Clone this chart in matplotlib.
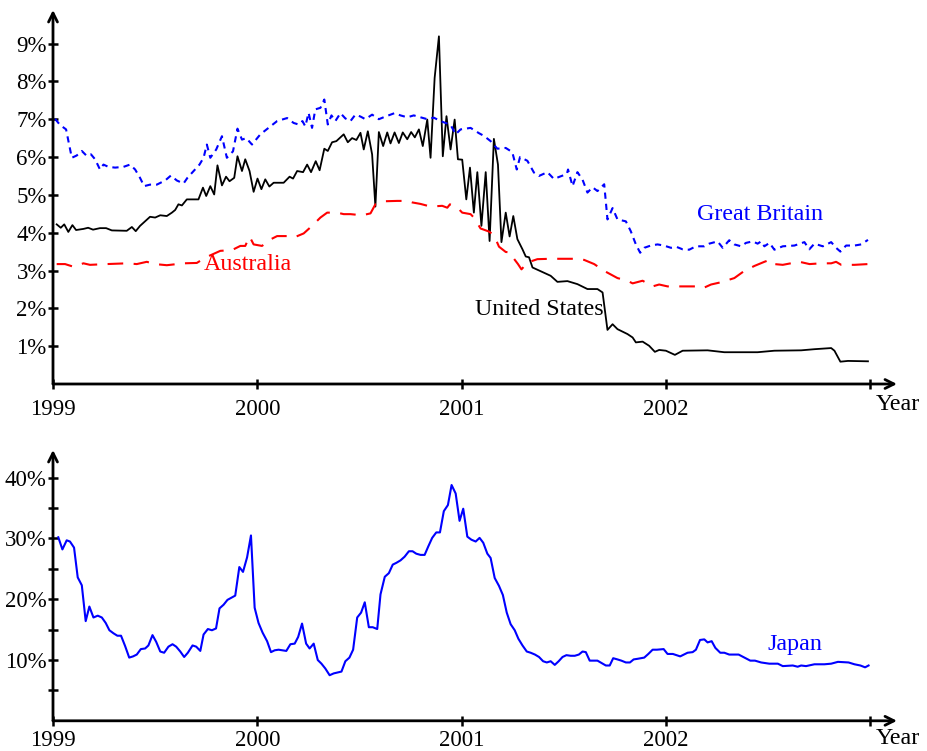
import matplotlib
matplotlib.use("Agg")
import matplotlib.pyplot as plt

plt.rcParams['font.family'] = ['Liberation Serif', 'DejaVu Serif']

# ---- Top panel: interest rates (%) ----
us_year = [1999.018, 1999.038, 1999.055, 1999.075, 1999.095, 1999.113, 1999.149, 1999.172,
           1999.196, 1999.230, 1999.260, 1999.288, 1999.361, 1999.386, 1999.405, 1999.426,
           1999.475, 1999.500, 1999.525, 1999.557, 1999.582, 1999.598, 1999.614, 1999.631,
           1999.655, 1999.712, 1999.734, 1999.750, 1999.770, 1999.789, 1999.805, 1999.827,
           1999.847, 1999.864, 1999.887, 1999.903, 1999.925, 1999.941, 1999.962, 1999.982,
           2000.001, 2000.020, 2000.039, 2000.059, 2000.080, 2000.129, 2000.158, 2000.175,
           2000.195, 2000.224, 2000.244, 2000.263, 2000.286, 2000.305, 2000.328, 2000.345,
           2000.366, 2000.387, 2000.423, 2000.443, 2000.464, 2000.485, 2000.505, 2000.521,
           2000.541, 2000.562, 2000.578, 2000.595, 2000.616, 2000.636, 2000.652, 2000.672,
           2000.693, 2000.712, 2000.734, 2000.753, 2000.771, 2000.791, 2000.810, 2000.832,
           2000.848, 2000.868, 2000.889, 2000.908, 2000.926, 2000.946, 2000.966, 2000.982,
           2001.003, 2001.023, 2001.041, 2001.060, 2001.077, 2001.097, 2001.118, 2001.137,
           2001.158, 2001.178, 2001.195, 2001.216, 2001.235, 2001.253, 2001.273, 2001.298,
           2001.314, 2001.330, 2001.347, 2001.371, 2001.396, 2001.436, 2001.469, 2001.518,
           2001.567, 2001.616, 2001.665, 2001.690, 2001.714, 2001.739, 2001.763, 2001.812,
           2001.837, 2001.853, 2001.886, 2001.918, 2001.946, 2001.967, 2002.000, 2002.044,
           2002.082, 2002.204, 2002.286, 2002.449, 2002.531, 2002.662, 2002.727, 2002.809,
           2002.825, 2002.854, 2002.891, 2002.989]
us_rate = [4.22, 4.13, 4.22, 4.02, 4.20, 4.07, 4.10, 4.13,
           4.08, 4.12, 4.12, 4.06, 4.05, 4.15, 4.04, 4.18,
           4.42, 4.40, 4.46, 4.44, 4.53, 4.60, 4.75, 4.72,
           4.88, 4.88, 5.19, 4.97, 5.23, 5.01, 5.78, 5.25,
           5.48, 5.36, 5.45, 6.02, 5.63, 5.94, 5.63, 5.08,
           5.43, 5.15, 5.41, 5.22, 5.32, 5.32, 5.48, 5.43,
           5.63, 5.60, 5.80, 5.60, 5.89, 5.65, 6.22, 6.16,
           6.39, 6.42, 6.60, 6.39, 6.50, 6.45, 6.64, 6.20,
           6.68, 6.07, 4.69, 6.66, 6.29, 6.65, 6.36, 6.65,
           6.37, 6.65, 6.47, 6.66, 6.52, 6.73, 6.29, 6.99,
           5.98, 8.09, 9.19, 6.02, 7.08, 6.20, 6.99, 5.94,
           5.93, 4.88, 5.72, 4.53, 5.60, 4.18, 5.60, 3.78,
           6.48, 5.80, 3.75, 4.53, 3.90, 4.44, 3.83, 3.56,
           3.37, 3.35, 3.08, 3.02, 2.96, 2.86, 2.70, 2.72,
           2.64, 2.51, 2.51, 2.42, 1.43, 1.58, 1.45, 1.32,
           1.23, 1.10, 1.12, 1.01, 0.85, 0.90, 0.88, 0.77,
           0.88, 0.89, 0.84, 0.84, 0.88, 0.89, 0.92, 0.95,
           0.88, 0.59, 0.61, 0.60]

gb_year = [1999.010, 1999.034, 1999.064, 1999.092, 1999.116, 1999.141, 1999.165, 1999.186,
           1999.206, 1999.230, 1999.247, 1999.271, 1999.304, 1999.345, 1999.377, 1999.402,
           1999.426, 1999.446, 1999.475, 1999.508, 1999.549, 1999.577, 1999.606, 1999.639,
           1999.658, 1999.688, 1999.717, 1999.737, 1999.753, 1999.770, 1999.799, 1999.827,
           1999.851, 1999.881, 1999.903, 1999.925, 1999.946, 1999.974, 2000.015, 2000.055,
           2000.097, 2000.146, 2000.178, 2000.202, 2000.221, 2000.235, 2000.251, 2000.268,
           2000.284, 2000.309, 2000.328, 2000.345, 2000.363, 2000.382, 2000.407, 2000.431,
           2000.456, 2000.480, 2000.505, 2000.529, 2000.562, 2000.595, 2000.627, 2000.672,
           2000.701, 2000.734, 2000.766, 2000.799, 2000.832, 2000.864, 2000.897, 2000.946,
           2000.971, 2000.995, 2001.044, 2001.085, 2001.109, 2001.142, 2001.175, 2001.216,
           2001.248, 2001.270, 2001.286, 2001.322, 2001.354, 2001.379, 2001.420, 2001.452,
           2001.485, 2001.515, 2001.521, 2001.543, 2001.567, 2001.592, 2001.616, 2001.641,
           2001.665, 2001.698, 2001.714, 2001.739, 2001.763, 2001.804, 2001.828, 2001.853,
           2001.874, 2001.894, 2001.926, 2001.959, 2001.990, 2002.025, 2002.054, 2002.082,
           2002.114, 2002.147, 2002.188, 2002.212, 2002.253, 2002.278, 2002.310, 2002.335,
           2002.368, 2002.392, 2002.425, 2002.449, 2002.466, 2002.482, 2002.507, 2002.531,
           2002.572, 2002.629, 2002.678, 2002.702, 2002.727, 2002.768, 2002.809, 2002.833,
           2002.854, 2002.882, 2002.923, 2002.956, 2002.989]
gb_rate = [7.01, 6.85, 6.73, 5.98, 6.04, 6.16, 6.03, 6.07,
           5.94, 5.67, 5.80, 5.74, 5.72, 5.74, 5.80, 5.67,
           5.45, 5.23, 5.27, 5.27, 5.38, 5.51, 5.38, 5.30,
           5.45, 5.63, 5.80, 5.98, 6.33, 5.98, 6.20, 6.55,
           5.98, 6.15, 6.75, 6.46, 6.50, 6.33, 6.60, 6.77,
           6.95, 7.03, 6.90, 6.86, 6.95, 6.81, 7.17, 6.77,
           7.26, 7.30, 7.52, 6.86, 7.10, 6.95, 7.16, 7.02,
           6.95, 7.12, 7.07, 7.00, 7.12, 7.00, 7.07, 7.16,
           7.10, 7.05, 7.10, 7.05, 7.00, 7.04, 6.95, 6.85,
           6.60, 6.73, 6.77, 6.63, 6.56, 6.42, 6.22, 6.24,
           6.13, 5.67, 6.00, 5.90, 5.59, 5.50, 5.60, 5.42,
           5.49, 5.55, 5.67, 5.23, 5.60, 5.40, 5.06, 5.20,
           5.10, 5.28, 4.35, 4.65, 4.35, 4.30, 4.04, 3.69,
           3.47, 3.60, 3.66, 3.69, 3.66, 3.60, 3.62, 3.56,
           3.55, 3.64, 3.64, 3.71, 3.77, 3.60, 3.80, 3.69,
           3.64, 3.73, 3.77, 3.71, 3.77, 3.64, 3.73, 3.55,
           3.64, 3.66, 3.75, 3.56, 3.71, 3.64, 3.75, 3.60,
           3.50, 3.66, 3.66, 3.69, 3.81]

au_year = [1999.018, 1999.059, 1999.100, 1999.149, 1999.181, 1999.263, 1999.361, 1999.410,
           1999.459, 1999.500, 1999.557, 1999.639, 1999.704, 1999.745, 1999.819, 1999.876,
           1999.917, 1999.941, 1999.962, 1999.982, 2000.023, 2000.064, 2000.097, 2000.146,
           2000.178, 2000.227, 2000.268, 2000.309, 2000.342, 2000.391, 2000.423, 2000.456,
           2000.513, 2000.554, 2000.578, 2000.619, 2000.685, 2000.734, 2000.758, 2000.799,
           2000.848, 2000.905, 2000.930, 2000.943, 2000.987, 2001.003, 2001.044, 2001.060,
           2001.093, 2001.134, 2001.158, 2001.183, 2001.216, 2001.237, 2001.255, 2001.276,
           2001.293, 2001.322, 2001.371, 2001.436, 2001.501, 2001.567, 2001.600, 2001.649,
           2001.698, 2001.763, 2001.812, 2001.837, 2001.886, 2001.935, 2001.967, 2002.008,
           2002.082, 2002.147, 2002.180, 2002.221, 2002.270, 2002.335, 2002.384, 2002.433,
           2002.482, 2002.507, 2002.531, 2002.572, 2002.621, 2002.654, 2002.703, 2002.760,
           2002.809, 2002.833, 2002.858, 2002.923, 2002.989]
au_rate = [3.17, 3.17, 3.10, 3.19, 3.15, 3.17, 3.19, 3.17,
           3.23, 3.17, 3.14, 3.19, 3.20, 3.34, 3.52, 3.54,
           3.65, 3.65, 3.90, 3.69, 3.65, 3.82, 3.91, 3.91,
           3.87, 3.98, 4.18, 4.40, 4.53, 4.53, 4.49, 4.49,
           4.46, 4.51, 4.75, 4.83, 4.84, 4.84, 4.80, 4.76,
           4.69, 4.71, 4.66, 4.75, 4.62, 4.53, 4.49, 4.40,
           4.11, 4.03, 3.94, 3.63, 3.49, 3.48, 3.32, 3.17,
           3.03, 3.21, 3.30, 3.31, 3.31, 3.31, 3.28, 3.17,
           2.99, 2.80, 2.73, 2.66, 2.73, 2.58, 2.63, 2.58,
           2.58, 2.58, 2.53, 2.63, 2.69, 2.80, 2.99, 3.12,
           3.23, 3.28, 3.17, 3.15, 3.20, 3.23, 3.17, 3.19,
           3.19, 3.23, 3.15, 3.15, 3.17]

# ---- Bottom panel: Japan (%) ----
jp_year = [1999.026, 1999.046, 1999.067, 1999.083, 1999.103, 1999.121, 1999.141, 1999.160,
           1999.178, 1999.198, 1999.219, 1999.239, 1999.258, 1999.276, 1999.296, 1999.315,
           1999.333, 1999.353, 1999.373, 1999.392, 1999.410, 1999.430, 1999.451, 1999.467,
           1999.487, 1999.505, 1999.525, 1999.544, 1999.565, 1999.585, 1999.603, 1999.623,
           1999.642, 1999.660, 1999.683, 1999.701, 1999.721, 1999.737, 1999.758, 1999.778,
           1999.798, 1999.815, 1999.835, 1999.854, 1999.876, 1999.892, 1999.912, 1999.930,
           1999.950, 1999.969, 1999.987, 2000.006, 2000.026, 2000.048, 2000.067, 2000.085,
           2000.104, 2000.123, 2000.142, 2000.162, 2000.183, 2000.200, 2000.219, 2000.239,
           2000.256, 2000.276, 2000.296, 2000.314, 2000.333, 2000.354, 2000.374, 2000.412,
           2000.431, 2000.451, 2000.469, 2000.489, 2000.508, 2000.526, 2000.546, 2000.565,
           2000.587, 2000.603, 2000.624, 2000.644, 2000.663, 2000.681, 2000.701, 2000.721,
           2000.742, 2000.760, 2000.778, 2000.799, 2000.819, 2000.837, 2000.856, 2000.876,
           2000.894, 2000.913, 2000.933, 2000.951, 2000.971, 2000.990, 2001.008, 2001.028,
           2001.048, 2001.069, 2001.088, 2001.106, 2001.126, 2001.142, 2001.162, 2001.183,
           2001.202, 2001.221, 2001.240, 2001.260, 2001.278, 2001.298, 2001.319, 2001.338,
           2001.359, 2001.379, 2001.399, 2001.417, 2001.436, 2001.456, 2001.475, 2001.494,
           2001.513, 2001.534, 2001.554, 2001.574, 2001.592, 2001.608, 2001.627, 2001.647,
           2001.665, 2001.686, 2001.706, 2001.725, 2001.742, 2001.763, 2001.782, 2001.804,
           2001.824, 2001.842, 2001.861, 2001.894, 2001.914, 2001.935, 2001.956, 2001.989,
           2002.008, 2002.034, 2002.070, 2002.106, 2002.131, 2002.147, 2002.167, 2002.188,
           2002.204, 2002.224, 2002.242, 2002.266, 2002.286, 2002.310, 2002.356, 2002.384,
           2002.413, 2002.436, 2002.466, 2002.506, 2002.548, 2002.572, 2002.621, 2002.645,
           2002.662, 2002.686, 2002.727, 2002.776, 2002.809, 2002.842, 2002.894, 2002.923,
           2002.952, 2002.975, 2002.992]
jp_rate = [30.2, 28.2, 29.7, 29.5, 28.5, 23.6, 22.3, 16.4,
           18.8, 17.0, 17.3, 17.0, 16.1, 14.9, 14.4, 14.0,
           14.0, 12.3, 10.4, 10.6, 10.9, 11.8, 11.9, 12.4,
           14.1, 13.0, 11.4, 11.2, 12.2, 12.6, 12.2, 11.4,
           10.5, 11.2, 12.4, 12.2, 11.5, 14.2, 15.1, 14.9,
           15.2, 18.5, 19.1, 19.9, 20.3, 20.6, 25.3, 24.5,
           26.9, 30.5, 18.6, 16.1, 14.5, 13.1, 11.3, 11.6,
           11.7, 11.6, 11.5, 12.6, 12.7, 13.8, 16.0, 12.7,
           11.9, 12.7, 10.0, 9.4, 8.6, 7.5, 7.8, 8.1,
           9.8, 10.4, 11.7, 17.0, 17.8, 19.5, 15.4, 15.4,
           15.1, 20.8, 23.7, 24.3, 25.7, 26.0, 26.4, 27.0,
           27.9, 27.9, 27.5, 27.3, 27.3, 28.7, 30.1, 31.0,
           31.0, 34.5, 35.5, 38.8, 37.4, 32.9, 34.9, 30.3,
           29.8, 29.5, 30.1, 29.3, 27.5, 26.8, 23.5, 22.2,
           20.7, 17.8, 15.9, 14.9, 13.5, 12.4, 11.4, 11.2,
           10.9, 10.5, 9.8, 9.6, 9.8, 9.2, 9.8, 10.5,
           10.8, 10.7, 10.7, 10.9, 11.4, 11.3, 9.9, 9.9,
           9.9, 9.5, 9.1, 9.1, 10.3, 10.1, 9.9, 9.6,
           9.6, 10.1, 10.2, 10.4, 11.0, 11.7, 11.7, 11.8,
           11.0, 11.0, 10.6, 11.2, 11.3, 11.7, 13.3, 13.4,
           12.9, 13.1, 12.0, 11.2, 11.2, 10.9, 10.9, 10.4,
           9.9, 9.9, 9.6, 9.4, 9.4, 9.0, 9.1, 8.9,
           9.1, 9.0, 9.3, 9.3, 9.4, 9.7, 9.6, 9.3,
           9.1, 8.8, 9.1]

year_ticks = [1999, 2000, 2001, 2002, 2003]
year_labels = ['1999', '2000', '2001', '2002', '']
top_ticks = [1, 2, 3, 4, 5, 6, 7, 8, 9]
bottom_major = [10, 20, 30, 40]
bottom_minor = [5, 15, 25, 35]

BLUE = '#0000ff'
RED = '#ff0000'
FS = 16.5        # tick labels
FS_LABEL = 17.3  # series names and axis name

W, H = 927, 751
fig = plt.figure(figsize=(W / 100, H / 100), dpi=100)

x0, x1 = 1999.0, 1999.0 + (897 - 53) / 204.3


def frame(ax, xpad, year_y):
    for s in ax.spines.values():
        s.set_visible(False)
    arrow = dict(arrowstyle='->', lw=2.0, color='black', shrinkA=0, shrinkB=0,
                 mutation_scale=16)
    ax.annotate('', xy=(1, 0), xytext=(0, 0), xycoords='axes fraction',
                textcoords='axes fraction', arrowprops=arrow, annotation_clip=False)
    ax.annotate('', xy=(0, 1), xytext=(0, 0), xycoords='axes fraction',
                textcoords='axes fraction', arrowprops=arrow, annotation_clip=False)
    ax.set_xlim(x0, x1)
    ax.set_xticks(year_ticks)
    ax.set_xticklabels(year_labels)
    ax.tick_params(axis='both', which='both', direction='inout', length=7,
                   width=1.8, labelsize=FS)
    ax.tick_params(axis='y', pad=1.0)
    ax.tick_params(axis='x', pad=xpad)
    ax.text(2003.025, year_y, 'Year', transform=ax.get_xaxis_transform(),
            ha='left', va='center', fontsize=FS_LABEL)


# Top panel
ax1 = fig.add_axes([53 / W, (H - 384) / H, (897 - 53) / W, (384 - 10) / H])
ax1.plot(us_year, us_rate, color='black', lw=1.3)
ax1.plot(gb_year, gb_rate, color=BLUE, lw=1.5, dashes=(3.0, 2.4))
ax1.plot(au_year, au_rate, color=RED, lw=1.5, dashes=(7.5, 5.0))
ax1.set_ylim(0, 374 / 37.83)
ax1.set_yticks(top_ticks)
ax1.set_yticklabels([f'{v}%' for v in top_ticks])
frame(ax1, xpad=7, year_y=-20 / 374)
ax1.text(2002.46, 4.47, 'Great Britain', color=BLUE, fontsize=FS_LABEL, ha='center', va='center')
ax1.text(1999.74, 3.15, 'Australia', color=RED, fontsize=FS_LABEL, ha='left', va='center')
ax1.text(2001.38, 1.98, 'United States', color='black', fontsize=FS_LABEL, ha='center', va='center')

# Bottom panel
ax2 = fig.add_axes([53 / W, (H - 720.8) / H, (897 - 53) / W, (720.8 - 450) / H])
ax2.plot(jp_year, jp_rate, color=BLUE, lw=1.5)
ax2.set_ylim(0, (720.8 - 450) / 6.077)
ax2.set_yticks(bottom_major)
ax2.set_yticklabels([f'{v}%' for v in bottom_major])
ax2.set_yticks(bottom_minor, minor=True)
frame(ax2, xpad=3, year_y=-18 / 270.8)
ax2.text(2002.63, 12.5, 'Japan', color=BLUE, fontsize=FS_LABEL, ha='center', va='center')

fig.savefig('out.png', dpi=100)
